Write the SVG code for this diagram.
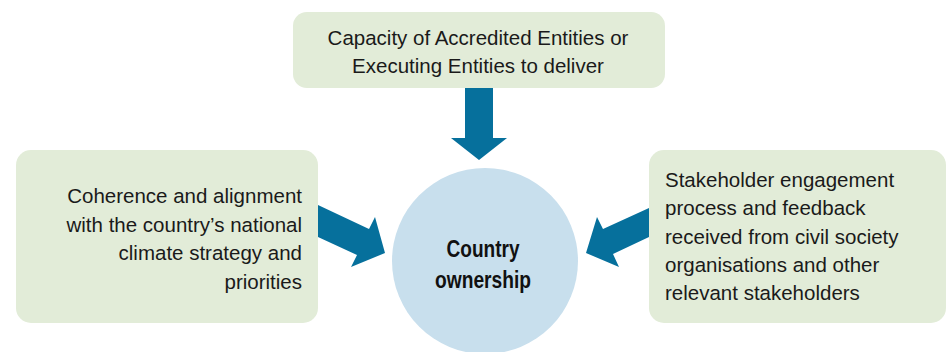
<svg xmlns="http://www.w3.org/2000/svg" width="948" height="352" viewBox="0 0 948 352">
<style>
.box{fill:#e2ecd8;}
.arrow{fill:#06709c;}
.t{font-family:"Liberation Sans",Arial,sans-serif;font-size:20.5px;fill:#1a1a1a;}
.b{font-family:"Liberation Sans",Arial,sans-serif;font-size:24px;font-weight:bold;fill:#111;}
</style>
<rect width="948" height="352" fill="#ffffff"/>
<g id="connectors">
<polygon class="arrow" points="465,88 493,88 493,138 507,138 479,160 451,138 465,138"/>
<polygon class="arrow" points="318,205 369,229 375,217 385,253 351,267 357,255 318,237"/>
<polygon class="arrow" points="649,208 603,229 597,217 586,253 619,267 613,254 649,237"/>
</g>
<g id="node-top">
<rect class="box" x="293" y="12" width="372" height="76" rx="14"/>
<text class="t" text-anchor="middle" x="478" y="45">Capacity of Accredited Entities or</text>
<text class="t" text-anchor="middle" x="478" y="73">Executing Entities to deliver</text>
</g>
<g id="node-left">
<rect class="box" x="16" y="150" width="302" height="173" rx="15"/>
<text class="t" text-anchor="end" x="302" y="203">Coherence and alignment</text>
<text class="t" text-anchor="end" x="302" y="231.5">with the country’s national</text>
<text class="t" text-anchor="end" x="302" y="260">climate strategy and</text>
<text class="t" text-anchor="end" x="302" y="288.5">priorities</text>
</g>
<g id="node-right">
<rect class="box" x="649" y="150" width="297" height="173" rx="15"/>
<text class="t" x="665" y="187">Stakeholder engagement</text>
<text class="t" x="665" y="215.3">process and feedback</text>
<text class="t" x="665" y="243.6">received from civil society</text>
<text class="t" x="665" y="271.9">organisations and other</text>
<text class="t" x="665" y="300.2">relevant stakeholders</text>
</g>
<g id="node-center">
<ellipse cx="485" cy="261" rx="93" ry="93" fill="#c8dfed"/>
<text class="b" text-anchor="middle" x="483" y="257" textLength="73" lengthAdjust="spacingAndGlyphs">Country</text>
<text class="b" text-anchor="middle" x="483" y="288" textLength="96" lengthAdjust="spacingAndGlyphs">ownership</text>
</g>
</svg>
